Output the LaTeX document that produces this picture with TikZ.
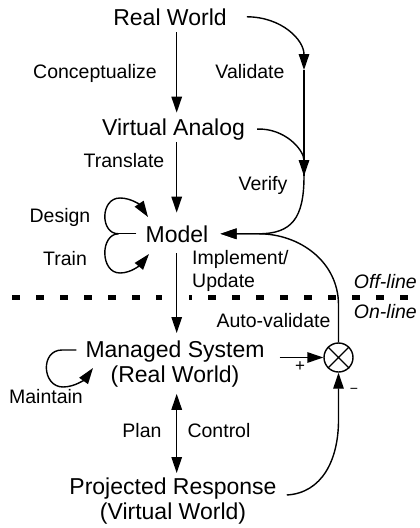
\documentclass[tikz,border=0pt]{standalone}
\usepackage{fontspec}
\setmainfont{Liberation Sans}
\usetikzlibrary{arrows.meta,calc}
\newcommand\bigtxt{\fontsize{23}{25.5}\selectfont}
\newcommand\smalltxt{\fontsize{19.5}{23}\selectfont}
\begin{document}
\begin{tikzpicture}[x=1pt,y=-1pt,
  big/.style={font=\bigtxt, inner sep=0pt, anchor=base},
  lbl/.style={font=\smalltxt, inner sep=0pt, anchor=base},
  ln/.style={line width=1.4pt},
  arr/.style={ln, -{Triangle[length=16pt,width=10.5pt]}},
  darr/.style={ln, {Triangle[length=16pt,width=10.5pt]}-{Triangle[length=16pt,width=10.5pt]}},
  sep/.style={line width=4.5pt, dash pattern=on 8.3pt off 15.7pt}]
\useasboundingbox (0,0) rectangle (420,528);

% main chain
\node[big] (rw) at (170,25) {Real World};
\node[big] (va) at (173.5,135) {Virtual Analog};
\node[big] (model) at (177,242) {Model};
\node[big, align=center, anchor=north] (ms) at (175,340.5) {Managed System\\(Real World)};
\node[big, align=center, anchor=north] (pr) at (173,477.5) {Projected Response\\(Virtual World)};
\node[draw, circle, line width=1.4pt, minimum size=29pt, inner sep=0pt] (sum) at (338.5,357.5) {};
\draw[ln] (sum.north west) -- (sum.south east) (sum.north east) -- (sum.south west);

\coordinate (ax) at (176.7,0);
\draw[arr, shorten <=7pt, shorten >=5.5pt] (rw.south -| ax) -- (va.north -| ax);
\draw[arr, shorten <=2pt, shorten >=12.5pt] (va.south -| ax) -- (model.north -| ax);
\draw[arr, shorten <=11pt, shorten >=7.5pt] (model.south -| ax) -- (ms.north -| ax);
\draw[darr, shorten <=6pt, shorten >=4.5pt] (ms.south -| ax) -- (pr.north -| ax);

% validate / verify path into the model
\coordinate (vstart) at ($(rw.east)+(20,0)$);
\coordinate (vmid) at (304,70);
\coordinate (vbot) at (304,176);
\coordinate (mtip) at ($(model.east)+(12,0)$);
\coordinate (mjoin) at ($(mtip)+(38,0)$);
\draw[arr] (vstart) .. controls (282,17) and (304,40) .. (vmid);
\draw[ln] (vmid) -- (vbot);
\draw[arr] ($(va.east)+(12,0)$) .. controls (285,128) and (304,150) .. (vbot);
\draw[arr] (vbot) .. controls (304,218) and (292,233.75) .. (mjoin) -- (mtip);

% auto-validate feedback
\draw[arr] (sum.north) -- (338.5,305) .. controls (338.5,262) and (300,233.75) .. (mjoin) -- (mtip);

% design / train loops
\coordinate (lj) at ($(model.west)+(-27,0)$);
\draw[ln] ($(model.west)+(-9,0)$) -- (lj);
\draw[arr] (lj) .. controls (100,234) and (100,198) .. (120,198) .. controls (131,198) and (140,205) .. (148,217);
\draw[arr] (lj) .. controls (100,234) and (100,273) .. (120,273) .. controls (131,273) and (140,265) .. (149,254);

% maintain loop
\coordinate (mtj) at ($(ms.north west)+(-9,9.5)$);
\draw[arr] (mtj) -- (62,350) .. controls (40,350) and (42,387) .. (63,387) .. controls (75,387) and (85,379) .. (93,368);

% comparator inputs
\draw[arr] ($(ms.east |- sum.west)+(15,0)$) -- (sum.west);
\draw[arr] ($(pr.north east)+(10,17.5)$) .. controls (322,493) and (338.5,460) .. (338.5,420) -- (sum.south);

% off-line / on-line separator
\draw[sep] (12,297.5) -- (162,297.5);
\draw[sep, dash phase=5pt] (189,297.5) -- (420,297.5);

% labels
\node[lbl] (conc) at (95,78) {Conceptualize};
\node[lbl] (valid) at (250,78) {Validate};
\node[lbl] (transl) at (124,167) {Translate};
\node[lbl] (verif) at (263,190) {Verify};
\node[lbl] (design) at (60,222) {Design};
\node[lbl] (train) at (65,265) {Train};
\node[lbl, align=left, anchor=north west] (impl) at (192,250) {Implement/\\Update};
\node[lbl, anchor=base east, font=\smalltxt\itshape] (offl) at (417,288) {Off-line};
\node[lbl, anchor=base east, font=\smalltxt\itshape] (onl) at (417,318) {On-line};
\node[lbl] (autov) at (273.5,327) {Auto-validate};
\node[lbl] (maint) at (46,403) {Maintain};
\node[lbl] (plan) at (142,437) {Plan};
\node[lbl] (ctrl) at (219,437) {Control};
\node[font=\fontsize{17}{17}\selectfont, inner sep=0pt] (plus) at (300,366.5) {+};
\node[font=\fontsize{14}{14}\selectfont, inner sep=0pt] (minus) at (354,391) {−};
\end{tikzpicture}
\end{document}
